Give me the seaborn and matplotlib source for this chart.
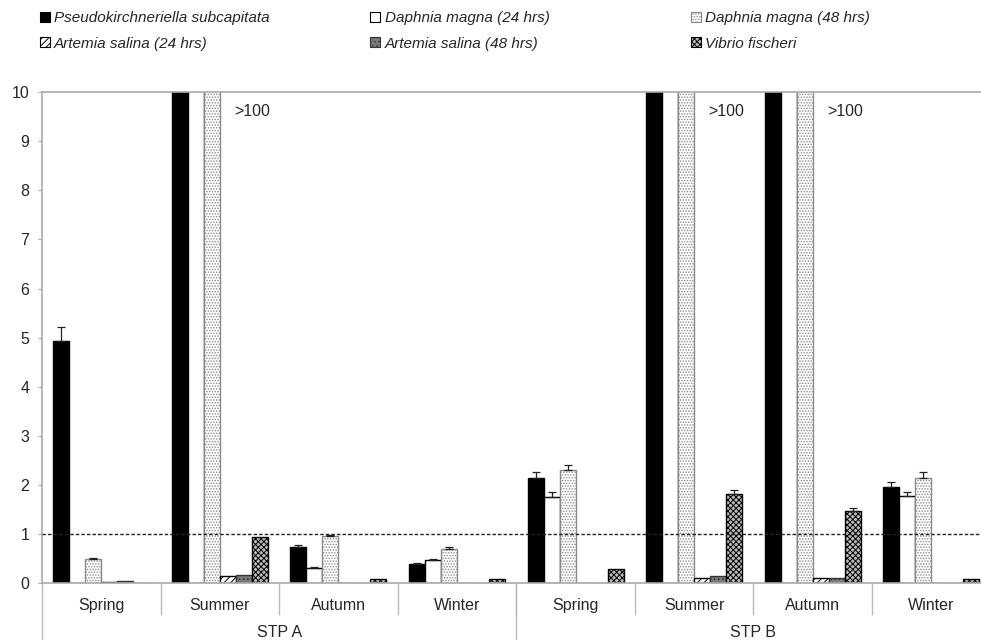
import numpy as np
import pandas as pd
import matplotlib
matplotlib.use("Agg")
import matplotlib.pyplot as plt
import seaborn as sns

# --- data ---
seasons = ["Spring", "Summer", "Autumn", "Winter"]
plants = ["STP A", "STP B"]
groups = [p + " " + s for p in plants for s in seasons]

species = ["Pseudokirchneriella subcapitata", "Daphnia magna (24 hrs)",
           "Daphnia magna (48 hrs)", "Artemia salina (24 hrs)",
           "Artemia salina (48 hrs)", "Vibrio fischeri"]

# >100 values are shown as 100 (cut off at the top of the axis)
pseudo = [4.93, 100, 0.73, 0.39, 2.14, 100, 100, 1.95]
daph24 = [0.01, 100, 0.30, 0.47, 1.75, 100, 100, 1.77]
daph48 = [0.48, 100, 0.96, 0.70, 2.30, 100, 100, 2.14]
art24 = [0.03, 0.14, 0.01, 0.0, 0.01, 0.10, 0.10, 0.0]
art48 = [0.05, 0.16, 0.01, 0.0, 0.01, 0.14, 0.10, 0.0]
vibrio = [0.01, 0.94, 0.09, 0.09, 0.29, 1.81, 1.47, 0.09]

pseudo_err = [0.28, 0, 0.04, 0.02, 0.12, 0, 0, 0.11]
daph24_err = [0, 0, 0.02, 0.02, 0.10, 0, 0, 0.08]
daph48_err = [0.02, 0, 0.02, 0.03, 0.10, 0, 0, 0.12]
vibrio_err = [0, 0, 0, 0, 0, 0.08, 0.06, 0]

over_groups = ["STP A Summer", "STP B Summer", "STP B Autumn"]

values = [pseudo, daph24, daph48, art24, art48, vibrio]
errors = [pseudo_err, daph24_err, daph48_err, None, None, vibrio_err]

df = pd.DataFrame({
    "group": groups * len(species),
    "species": np.repeat(species, len(groups)),
    "value": np.concatenate(values),
})

# --- style ---
sns.set_style("white")
plt.rcParams["font.family"] = ["Liberation Sans", "DejaVu Sans"]
plt.rcParams["hatch.linewidth"] = 0.7

styles = [
    dict(facecolor="black", edgecolor="black", hatch=None),
    dict(facecolor="white", edgecolor="black", hatch=None),
    dict(facecolor="white", edgecolor="#8a8a8a", hatch="......"),
    dict(facecolor="white", edgecolor="black", hatch="/////"),
    dict(facecolor="#7a7a7a", edgecolor="#333333", hatch="...."),
    dict(facecolor="#bbbbbb", edgecolor="black", hatch="xxxxxx"),
]

fig = plt.figure(figsize=(9.81, 6.4), dpi=100)
ax = fig.add_axes([0.0428, 0.089, 0.967, 0.767])

sns.barplot(data=df, x="group", y="value", hue="species", order=groups,
            hue_order=species, width=0.81, errorbar=None, legend=False,
            palette=["black"] * 6, ax=ax)

for cont, st, err in zip(ax.containers, styles, errors):
    for bar in cont:
        bar.set_facecolor(st["facecolor"])
        bar.set_edgecolor(st["edgecolor"])
        bar.set_hatch(st["hatch"])
        bar.set_linewidth(1.0)
    if err is not None:
        xs = np.array([b.get_x() + b.get_width() / 2 for b in cont])
        ys = np.array([b.get_height() for b in cont])
        e = np.array(err)
        m = e > 0
        ax.errorbar(xs[m], ys[m], yerr=[np.zeros(m.sum()), e[m]], fmt="none",
                    ecolor="#222222", elinewidth=0.9, capsize=3, capthick=0.9)

ax.axhline(1, color="#222222", lw=1.0, ls=(0, (2.5, 1.5)), zorder=5)

ax.set_ylim(0, 10)
ax.set_xlim(-0.5, len(groups) - 0.5)
ax.set_yticks(range(0, 11))
ax.tick_params(axis="y", length=3, color="#aaaaaa", labelsize=11.5, pad=6, left=True)
ax.set_xticks(range(len(groups)))
ax.set_xticklabels(seasons * 2)
ax.tick_params(axis="x", length=0, labelsize=11.5, pad=11)
ax.set_xlabel("")
ax.set_ylabel("")

for side in ["left", "top", "bottom"]:
    ax.spines[side].set_color("#aaaaaa")
    ax.spines[side].set_linewidth(1.2)
ax.spines["right"].set_visible(False)

# category separators below the axis
trans = ax.get_xaxis_transform()
ax.vlines(np.arange(0.5, len(groups) - 0.5), -0.065, 0, transform=trans,
          color="#bbbbbb", lw=1.0, clip_on=False)
ax.vlines([-0.5, 3.5], -0.12, 0, transform=trans, color="#bbbbbb", lw=1.0,
          clip_on=False)
for i, p in enumerate(plants):
    ax.text(1.5 + 4 * i, -0.1, p, transform=trans, ha="center", va="center",
            fontsize=11.5)

for g in over_groups:
    ax.text(groups.index(g) + 0.12, 9.6, ">100", ha="left", va="center",
            fontsize=11.5)

# legend, three columns of two entries
handles = [plt.Rectangle((0, 0), 1, 1, lw=0.8, **st) for st in styles]
col_x = [0.031, 0.368, 0.695]
for c in range(3):
    idx = [c, c + 3]
    fig.legend([handles[i] for i in idx], [species[i] for i in idx],
               loc="upper left", bbox_to_anchor=(col_x[c], 0.997), frameon=False,
               prop=dict(style="italic", size=11), handlelength=0.65,
               handleheight=0.65, handletextpad=0.3, labelspacing=0.75,
               borderaxespad=0.2)

fig.savefig("out.png", dpi=100)
